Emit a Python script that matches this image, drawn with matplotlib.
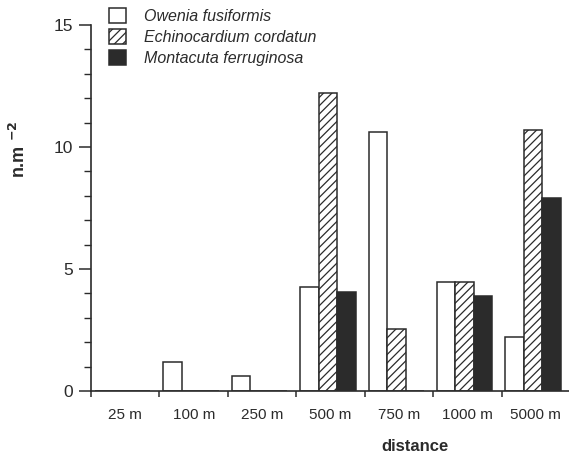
import matplotlib.pyplot as plt
import numpy as np
from matplotlib.patches import Patch

plt.rcParams['font.family'] = ['Liberation Sans', 'DejaVu Sans']
plt.rcParams['hatch.linewidth'] = 0.9

distances = ['25 m', '100 m', '250 m', '500 m', '750 m', '1000 m', '5000 m']
species = ['Owenia fusiformis', 'Echinocardium cordatun',
           'Montacuta ferruginosa']
owenia = [0, 1.2, 0.6, 4.25, 10.6, 4.45, 2.2]
echino = [0, 0, 0, 12.2, 2.55, 4.45, 10.7]
montacuta = [0, 0, 0, 4.05, 0, 3.9, 7.9]

ink = '#2b2b2b'
fig = plt.figure(figsize=(5.69, 4.53), dpi=100)
ax = fig.add_axes([0.16, 0.137, 0.842, 0.808])

x = np.arange(len(distances))
w = 0.27
ax.bar(x - 0.31, owenia, w, color='white', edgecolor=ink, linewidth=1.1)
ax.bar(x - 0.04, echino, w, color='white', edgecolor=ink, linewidth=1.1,
       hatch='////')
ax.bar(x + 0.23, montacuta, w, color=ink, edgecolor=ink, linewidth=1.1)

ax.set_xlim(-0.5, len(distances) - 0.5)
ax.set_ylim(0, 15)
for s in ['top', 'right']:
    ax.spines[s].set_visible(False)
for s in ['left', 'bottom']:
    ax.spines[s].set_color(ink)
    ax.spines[s].set_linewidth(1.2)

# labels at group centres, small ticks at group boundaries
ax.set_xticks(x)
ax.set_xticklabels(distances, fontsize=11, color=ink)
ax.tick_params(axis='x', length=0, pad=12)
ax.set_xticks(np.arange(len(distances)) - 0.5, minor=True)
ax.tick_params(axis='x', which='minor', length=4, width=1.1, color=ink)

ax.set_yticks([0, 5, 10, 15])
ax.set_yticks(np.arange(0, 16), minor=True)
ax.tick_params(axis='y', length=9, width=1.1, color=ink, labelsize=12.5,
               labelcolor=ink, pad=4)
ax.tick_params(axis='y', which='minor', length=5, width=1.0, color=ink)

# x title sits low, right of centre
fig.text(415 / 569, 1 - 451 / 453, 'distance', fontsize=12,
         fontweight='bold', color=ink, ha='center', va='baseline')
ax.set_ylabel('n.m $^{\\mathbf{-2}}$', fontsize=13, fontweight='bold',
              color=ink)
ax.yaxis.set_label_coords(-0.13, 0.66)

handles = [Patch(facecolor='white', edgecolor=ink, linewidth=1.1),
           Patch(facecolor='white', edgecolor=ink, linewidth=1.1,
                 hatch='////'),
           Patch(facecolor=ink, edgecolor=ink, linewidth=1.1)]
leg = ax.legend(handles, species, loc='upper left',
                bbox_to_anchor=(0.038, 1.045), frameon=False,
                prop={'style': 'italic', 'size': 11.5},
                handlelength=1.05, handleheight=1.05, labelspacing=0.3,
                handletextpad=1.1, borderpad=0, borderaxespad=0)
for t in leg.get_texts():
    t.set_color(ink)

fig.savefig('out.png', dpi=100)
